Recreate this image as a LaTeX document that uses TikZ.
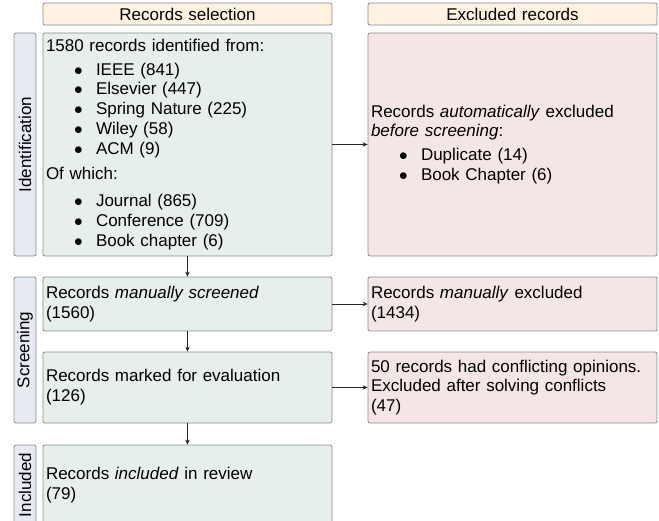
\documentclass[tikz,border=0pt]{standalone}
\usepackage{fontspec}
\setmainfont{Liberation Sans}
\usetikzlibrary{arrows.meta}

\definecolor{hdrfill}{HTML}{FFF3E0}
\definecolor{keepfill}{HTML}{E6EFEA}
\definecolor{dropfill}{HTML}{F5E6E6}
\definecolor{stagefill}{HTML}{E6EBF3}
\definecolor{edgegray}{HTML}{8A8A8A}
\definecolor{arrowgray}{HTML}{262626}

% bullet item inside a box: bullet indented, text aligned after it
\newcommand\itm[1]{\hspace*{28pt}\makebox[22pt][l]{$\bullet$}#1}

\tikzset{
  panel/.style={draw=edgegray, line width=0.8pt, rounded corners=2pt,
    inner sep=3pt, text width=283pt, minimum width=289pt},
  header/.style={panel, fill=hdrfill, align=center, minimum height=22pt},
  keep/.style={panel, fill=keepfill, align=left},
  drop/.style={panel, fill=dropfill, align=left},
  stage/.style={draw=edgegray, line width=0.8pt, rounded corners=2pt,
    fill=stagefill, inner sep=0pt, rotate=90, minimum height=22pt},
  flow/.style={draw=arrowgray, line width=0.8pt, -{Stealth[length=5pt,width=4.5pt]}},
}

\begin{document}
\begin{tikzpicture}[x=1pt, y=-1pt, font=\fontsize{17}{19.8}\selectfont]
\useasboundingbox (0,0) rectangle (659,521);

% column headers
\node[header] (hsel) at (187.5,14) {Records selection};
\node[header] (hexc) at (512.5,14) {Excluded records};

% stage labels on the left
\node[stage, minimum width=223pt] (sid) at (25,144.5) {Identification};
\node[stage, minimum width=146pt] (sscr) at (25,350) {Screening};
\node[stage, minimum width=80pt] (sinc) at (25,485) {Included};

% records kept
\node[keep, minimum height=223pt] (ident) at (187.5,144.5) {%
1580 records identified from:\\[4pt]
\itm{IEEE (841)}\\
\itm{Elsevier (447)}\\
\itm{Spring Nature (225)}\\
\itm{Wiley (58)}\\
\itm{ACM (9)}\\[5pt]
Of which:\\[8pt]
\itm{Journal (865)}\\
\itm{Conference (709)}\\
\itm{Book chapter (6)}};

\node[keep, minimum height=54pt] (scr) at (187.5,304) {Records \textit{manually screened}\\(1560)};
\node[keep, minimum height=71pt] (eval) at (187.5,387.5) {Records marked for evaluation\\(126)};
\node[keep, minimum height=80pt] (incl) at (187.5,485) {Records \textit{included} in review\\(79)};

% records excluded
\node[drop, minimum height=223pt] (auto) at (512.5,144.5) {%
Records \textit{automatically} excluded\\
\textit{before screening}:\\[4pt]
\itm{Duplicate (14)}\\
\itm{Book Chapter (6)}};
\node[drop, minimum height=54pt] (man) at (512.5,304) {Records \textit{manually} excluded\\(1434)};
\node[drop, minimum height=71pt] (conf) at (512.5,387.5) {50 records had conflicting opinions.\\Excluded after solving conflicts\\(47)};

% flow
\draw[flow] (ident) -- (scr);
\draw[flow] (scr) -- (eval);
\draw[flow] (eval) -- (incl);
\draw[flow] (ident) -- (auto);
\draw[flow] (scr) -- (man);
\draw[flow] (eval) -- (conf);
\end{tikzpicture}
\end{document}
